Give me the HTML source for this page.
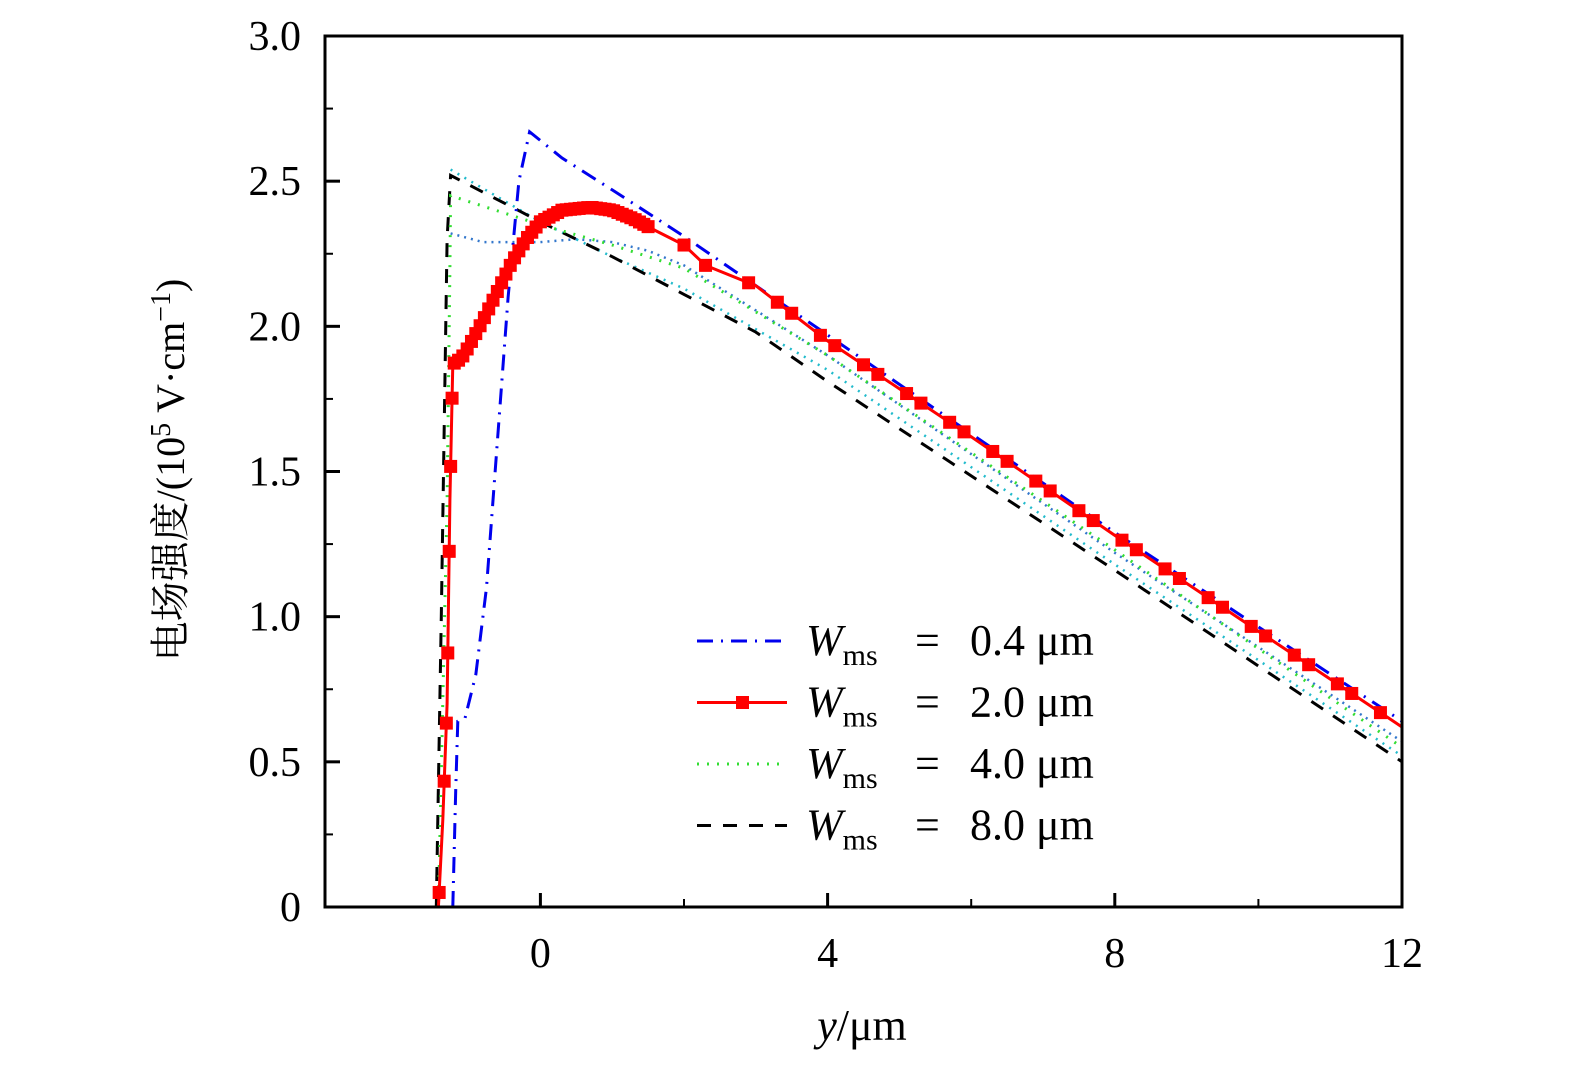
<!DOCTYPE html>
<html><head><meta charset="utf-8"><style>
html,body{margin:0;padding:0;background:#fff;overflow:hidden;}
svg{display:block;font-family:"Liberation Serif","Noto Serif CJK SC",serif;}
</style></head><body>
<svg id="chart" width="1575" height="1069" viewBox="0 0 1575 1069" xmlns="http://www.w3.org/2000/svg"></svg>
<script>
const xTicks=[0,4,8,12];
const xMinor=[2,6,10];
const yTicks=[0,0.5,1.0,1.5,2.0,2.5,3.0];
const yTickLabels=["0","0.5","1.0","1.5","2.0","2.5","3.0"];
const yMinor=[0.25,0.75,1.25,1.75,2.25,2.75];
const redX=[-1.42,-1.36,-1.3,-1.26,-1.22,-1.1,-1.0,-0.8,-0.6,-0.4,-0.2,0,0.3,0.7,1.0,1.3,1.6,2.0,2.3,3.0,4.0,6.0,8.0,10.0,12.0];
const redY=[0,0.3,0.7,1.4,1.87,1.89,1.93,2.02,2.12,2.22,2.30,2.36,2.40,2.41,2.40,2.37,2.33,2.28,2.21,2.14,1.95,1.62,1.28,0.95,0.62];
const blueX=[-1.22,-1.18,-1.15,-1.05,-0.9,-0.75,-0.6,-0.45,-0.3,-0.15,0.3,1.0,2.0,4.0,8.0,12.0];
const blueY=[0,0.4,0.64,0.65,0.8,1.1,1.6,2.1,2.5,2.67,2.58,2.47,2.31,1.97,1.29,0.64];
const greenX=[-1.42,-1.3,-1.26,-1.25,0,1.0,2.0,4.0,8.0,12.0];
const greenY=[0,1.4,2.2,2.45,2.35,2.28,2.20,1.90,1.23,0.55];
const blackX=[-1.45,-1.38,-1.3,-1.25,0,1.0,2.0,3.0,4.0,8.0,12.0];
const blackY=[0,1.0,2.3,2.52,2.36,2.24,2.11,1.98,1.81,1.16,0.50];
const cyanX=[-1.25,0,1.0,2.0,4.0,8.0,12.0];
const cyanY=[2.54,2.36,2.24,2.13,1.85,1.18,0.52];
const steelX=[-1.25,-0.8,0,0.5,1.0,1.5,2.0,4.0,8.0,12.0];
const steelY=[2.32,2.29,2.29,2.30,2.29,2.26,2.21,1.90,1.22,0.57];

const X0=325,X1=1402,Y0=907,Y1=36,XMIN=-3,XMAX=12,YMIN=0,YMAX=3;
const sx=v=>X0+(v-XMIN)/(XMAX-XMIN)*(X1-X0);
const sy=v=>Y0-(v-YMIN)/(YMAX-YMIN)*(Y0-Y1);
const svg=document.getElementById('chart');
const NS='http://www.w3.org/2000/svg';
function mk(tag,attrs,parent){const e=document.createElementNS(NS,tag);for(const k in attrs)e.setAttribute(k,attrs[k]);(parent||svg).appendChild(e);return e;}
function interp(xs,ys,x){for(let i=0;i<xs.length-1;i++){if(x>=xs[i]&&x<=xs[i+1]){const t=(x-xs[i])/(xs[i+1]-xs[i]);return ys[i]+t*(ys[i+1]-ys[i]);}}return ys[ys.length-1];}
function path(xs,ys){return xs.map((x,i)=>(i?'L':'M')+sx(x).toFixed(1)+','+sy(ys[i]).toFixed(1)).join(' ');}

const series=[
 {xs:steelX,ys:steelY,color:'#3377cc',w:2.5,dash:'2 5',name:'series-steelblue-dotted'},
 {xs:cyanX,ys:cyanY,color:'#22bbcc',w:2.5,dash:'2 6',name:'series-cyan-dotted'},
 {xs:blackX,ys:blackY,color:'#000',w:3,dash:'14 12',name:'series-wms-8-0'},
 {xs:greenX,ys:greenY,color:'#33dd33',w:3,dash:'2 8',name:'series-wms-4-0'},
 {xs:blueX,ys:blueY,color:'#0000ee',w:3,dash:'16 8 2 8',name:'series-wms-0-4'},
];
series.forEach(s=>{
 const p=mk('path',{d:path(s.xs,s.ys),fill:'none',stroke:s.color,'stroke-width':s.w,'stroke-dasharray':s.dash});
 
 
});
const rp=mk('path',{d:path(redX,redY),fill:'none',stroke:'#ff0000','stroke-width':3});


const mxs=[-1.41,-1.34,-1.31,-1.29,-1.27,-1.25,-1.23];
for(let x=-1.2;x<=1.55;x+=0.06)mxs.push(x);
mxs.push(2.0,2.3);
for(let x=3.3;x<=12;x+=0.6){mxs.push(x-0.4);mxs.push(x);}
const mg=mk('g',{fill:'#ff0000'});


mxs.forEach(x=>{if(x>12.01)return;const y=interp(redX,redY,x);const r=mk('rect',{x:sx(x)-6.5,y:sy(y)-6.5,width:13,height:13},mg);

});

const fr=mk('rect',{x:X0,y:Y1,width:X1-X0,height:Y0-Y1,fill:'none',stroke:'#000','stroke-width':3});


xTicks.forEach(v=>{mk('line',{x1:sx(v),x2:sx(v),y1:Y0,y2:Y0-14,stroke:'#000','stroke-width':3});
 const t=mk('text',{x:sx(v),y:967,'font-size':42,'text-anchor':'middle'});t.textContent=v;
 
 });
xMinor.forEach(v=>mk('line',{x1:sx(v),x2:sx(v),y1:Y0,y2:Y0-8,stroke:'#000','stroke-width':2}));
yTicks.forEach((v,i)=>{mk('line',{x1:X0,x2:X0+15,y1:sy(v),y2:sy(v),stroke:'#000','stroke-width':3});
 const t=mk('text',{x:301,y:sy(v)+14,'font-size':42,'text-anchor':'end'});t.textContent=yTickLabels[i];
 
 });
yMinor.forEach(v=>mk('line',{x1:X0,x2:X0+8,y1:sy(v),y2:sy(v),stroke:'#000','stroke-width':2}));

const xt=mk('text',{x:862,y:1040,'font-size':44,'text-anchor':'middle'});
xt.innerHTML='<tspan font-style="italic">y</tspan>/μm';


const yt=mk('text',{x:0,y:0,'font-size':40,'text-anchor':'middle',transform:'translate(184,470) rotate(-90)'});
yt.innerHTML='电场强度/(10<tspan dy="-14" font-size="28">5</tspan><tspan dy="14"> V·cm</tspan><tspan dy="-14" font-size="28">−1</tspan><tspan dy="14">)</tspan>';



const leg=[['0.4','#0000ee','16 8 2 8',false],['2.0','#ff0000','',true],['4.0','#33dd33','2 8',false],['8.0','#000','14 12',false]];
const lg=mk('g',{});


leg.forEach((l,i)=>{const y=641+i*61.5;
 const g=mk('g',{},lg);
 
 
 mk('line',{x1:697,x2:787,y1:y,y2:y,stroke:l[1],'stroke-width':3,'stroke-dasharray':l[2]},g);
 if(l[3])mk('rect',{x:736,y:y-6.5,width:13,height:13,fill:'#ff0000'},g);
 const t=mk('text',{x:806,y:y+14,'font-size':44},g);
 t.innerHTML='<tspan font-style="italic">W</tspan><tspan font-size="30" dy="10">ms</tspan><tspan dy="-10" x="915">=</tspan><tspan x="970">'+l[0]+' μm</tspan>';
});
</script>
</body></html>
